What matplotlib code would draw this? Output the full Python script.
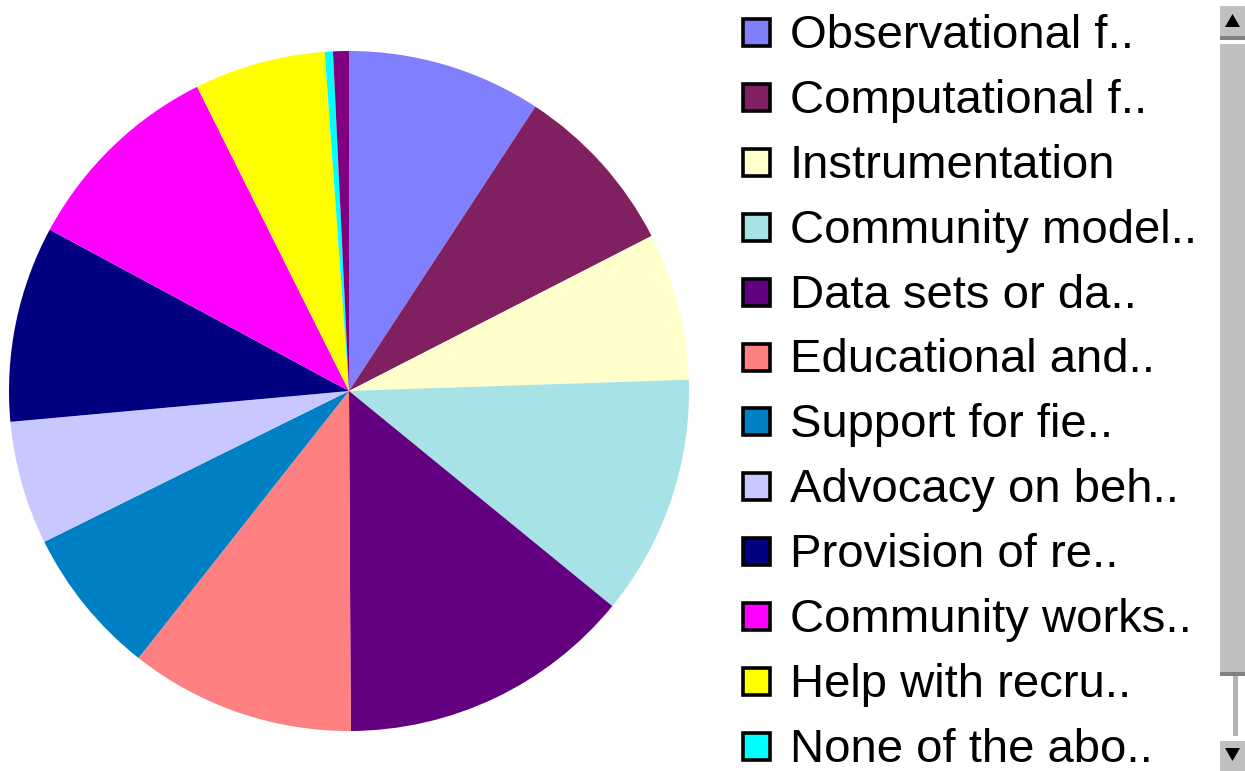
import matplotlib
matplotlib.use("Agg")
import matplotlib.pyplot as plt
from matplotlib.patches import Rectangle, Polygon

plt.rcParams["font.family"] = ["Liberation Sans", "DejaVu Sans"]

# ---- data (slice sizes, in degrees of the circle) ----
labels = [
    "Observational f..", "Computational f..", "Instrumentation",
    "Community model..", "Data sets or da..", "Educational and..",
    "Support for fie..", "Advocacy on beh..", "Provision of re..",
    "Community works..", "Help with recru..", "None of the abo..",
    "Other",
]
values = [33.2, 29.6, 25.2, 41.1, 50.4, 38.5, 25.4, 21.1, 33.5, 35.1, 22.4, 1.4, 2.7]
colors = [
    "#8080FF", "#802060", "#FFFFCC", "#A6E2E6", "#630080", "#FF8080",
    "#0080C4", "#C8C8FF", "#000080", "#FF00FF", "#FFFF00", "#00FFFF",
    "#800080",
]
n_legend = 12  # rows visible in the scrolled legend box

W, H = 1245, 771
fig = plt.figure(figsize=(W / 100, H / 100), dpi=100)

# ---- pie ----
cx, cy, r = 349, 391, 340
ax = fig.add_axes([(cx - r) / W, (H - cy - r) / H, 2 * r / W, 2 * r / H])
ax.pie(values, colors=colors, startangle=90, counterclock=False,
       wedgeprops=dict(linewidth=0))
ax.set_xlim(-1, 1)
ax.set_ylim(-1, 1)
ax.set_aspect("equal")
ax.axis("off")

# ---- legend + scrollbar drawn in pixel coords ----
ov = fig.add_axes([0, 0, 1, 1])
ov.set_xlim(0, W)
ov.set_ylim(H, 0)
ov.axis("off")

row0, step = 33, 64.9
for i in range(n_legend):
    y = row0 + i * step
    ov.add_patch(Rectangle((742.5, y - 14), 27, 27, facecolor=colors[i],
                           edgecolor="black", linewidth=2.6))
    ov.text(790, y + 3, labels[i], fontsize=34, va="center", ha="left",
            color="black")

# scrollbar
ov.add_patch(Rectangle((1220, 6), 25, 30, facecolor="#C0C0C0", edgecolor="none"))
ov.add_patch(Rectangle((1220, 36), 25, 4, facecolor="#808080", edgecolor="none"))
ov.add_patch(Polygon([[1225, 27], [1240, 27], [1232.5, 14]], closed=True,
                     facecolor="black", edgecolor="none"))
ov.add_patch(Rectangle((1220, 44), 25, 628, facecolor="#C0C0C0", edgecolor="none"))
ov.add_patch(Rectangle((1220, 672), 25, 4, facecolor="#808080", edgecolor="none"))
ov.add_patch(Rectangle((1233, 676), 5, 60, facecolor="#B4B4B4", edgecolor="none"))
ov.add_patch(Rectangle((1220, 741), 25, 30, facecolor="#C0C0C0", edgecolor="none"))
ov.add_patch(Polygon([[1225, 748], [1240, 748], [1232.5, 761]], closed=True,
                     facecolor="black", edgecolor="none"))

fig.savefig("out.png", dpi=100)
